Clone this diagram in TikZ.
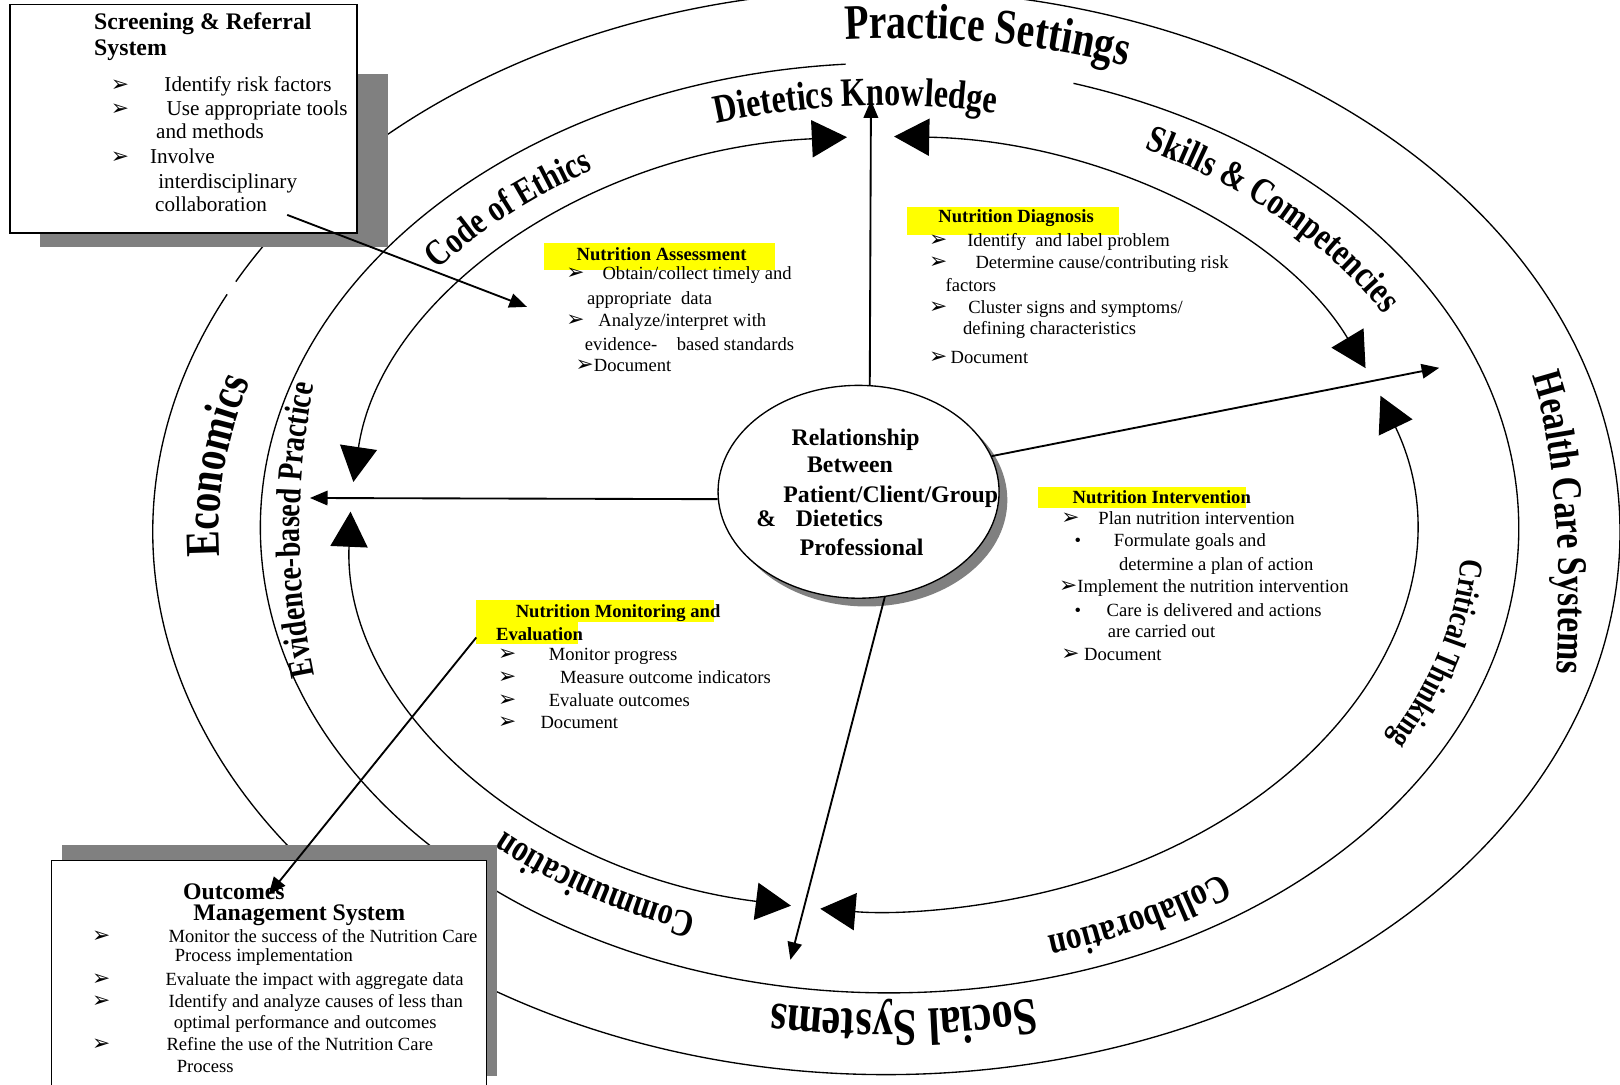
\documentclass[tikz,border=0pt]{standalone}
\usepackage{fontspec}
\setmainfont{Liberation Serif}
\newfontfamily\ringfont[FakeStretch=0.8]{Liberation Serif}
\newfontfamily\symfont{DejaVu Sans}
\usetikzlibrary{arrows.meta,decorations.text,calc,shapes.geometric}
\definecolor{shd}{RGB}{128,128,128}
\definecolor{hlyel}{RGB}{255,255,0}
\newcommand\arw{{\symfont\fontsize{21}{21}\selectfont\char"27A2}}
\newcommand\rfPS{\ringfont\bfseries\fontsize{48}{48}\selectfont}
\newcommand\rfHC{\ringfont\bfseries\fontsize{40.5}{40.5}\selectfont}
\newcommand\rfSS{\ringfont\bfseries\fontsize{51}{51}\selectfont}
\newcommand\rfEC{\ringfont\bfseries\fontsize{47}{47}\selectfont}
\newcommand\rfDK{\ringfont\bfseries\fontsize{39}{39}\selectfont}
\newcommand\rfSC{\ringfont\bfseries\fontsize{37}{37}\selectfont}
\newcommand\rfCE{\ringfont\bfseries\fontsize{36}{36}\selectfont}
\newcommand\rfEB{\ringfont\bfseries\fontsize{34}{34}\selectfont}
\newcommand\rfCT{\ringfont\bfseries\fontsize{32}{32}\selectfont}
\newcommand\rfCO{\ringfont\bfseries\fontsize{38}{38}\selectfont}
\newcommand\rfCM{\ringfont\bfseries\fontsize{37}{37}\selectfont}
\newcounter{tn}
\newcommand\mytext[4]{\stepcounter{tn}\node[#3] (t\arabic{tn}) at (#1,-#2) {#4};}
\tikzset{
 ringline/.style={line width=1.3pt},
 cyc/.style={line width=1.3pt, {Triangle[length=34pt,width=36pt]}-{Triangle[length=34pt,width=36pt]}},
 conn/.style={line width=1.8pt, -{Triangle[length=17pt,width=14pt]}},
 boxnode/.style={draw, line width=1.3pt, fill=white, inner sep=0pt, anchor=north west},
 hl/.style={fill=hlyel},
 bt/.style={anchor=base west, inner sep=0pt, font=\fontsize{18}{18}\selectfont},
 bb/.style={anchor=base west, inner sep=0pt, font=\bfseries\fontsize{18}{18}\selectfont},
 sbt/.style={anchor=base west, inner sep=0pt, font=\fontsize{20.5}{20.5}\selectfont},
 tt/.style={anchor=base west, inner sep=0pt, font=\bfseries\fontsize{23}{23}\selectfont},
 bul/.style={anchor=base west, inner sep=0pt},
}
\begin{document}
\begin{tikzpicture}[x=1pt,y=1pt]
\useasboundingbox (0,0) rectangle (1568,-1050);
\clip (0,0) rectangle (1568,-1050);
\fill[white] (0,0) rectangle (1568,-1050);

\coordinate (cI) at (852,-507);
\coordinate (cM) at (861,-511);
\coordinate (cO) at (858,-515);
\coordinate (cB) at (856,-513);

% rings
\draw[ringline] ($(cO)+(96:710pt and 525pt)$) arc[start angle=96,end angle=152.5,x radius=710pt,y radius=525pt];
\draw[ringline] ($(cO)+(154:710pt and 525pt)$) arc[start angle=154,end angle=440,x radius=710pt,y radius=525pt];
\draw[ringline] ($(cM)+(94:609pt and 450pt)$) arc[start angle=94,end angle=433,x radius=609pt,y radius=450pt];

% inner care cycle
\draw[cyc] ($(cI)+(93.6:513pt and 375pt)$) arc[start angle=93.6,end angle=173.8,x radius=513pt,y radius=375pt];
\draw[cyc] ($(cI)+(23.7:513pt and 375pt)$) arc[start angle=23.7,end angle=88.5,x radius=513pt,y radius=375pt];
\draw[cyc] ($(cI)+(19.3:513pt and 375pt)$) arc[start angle=19.3,end angle=-96.5,x radius=513pt,y radius=375pt];
\draw[cyc] ($(cI)+(-99.7:513pt and 375pt)$) arc[start angle=-99.7,end angle=-181.8,x radius=513pt,y radius=375pt];

% ring labels
\path[decorate,decoration={text along path,text align=center,text={|\rfDK|Dietetics Knowledge}}]
  ($(cB)+(120:560pt and 411pt)$) arc[start angle=120,end angle=66,x radius=560pt,y radius=411pt];
\path[decorate,decoration={text along path,text align=center,text={|\rfCE|Code of Ethics}}]
  ($(cB)+(154:552pt and 405pt)$) arc[start angle=154,end angle=110,x radius=552pt,y radius=405pt];
\path[decorate,decoration={text along path,text align=center,text={|\rfSC|Skills {\&} Competencies}}]
  ($(cB)+(71:560pt and 413pt)$) arc[start angle=71,end angle=21,x radius=560pt,y radius=413pt];
\path[decorate,decoration={text along path,text align=center,text={|\rfCT|Critical Thinking}}]
  ($(cB)+(14:560pt and 413pt)$) arc[start angle=14,end angle=-45,x radius=560pt,y radius=413pt];
\path[decorate,decoration={text along path,text align=center,text={|\rfCO|Collaboration}}]
  ($(cB)+(-38:560pt and 410pt)$) arc[start angle=-38,end angle=-88,x radius=560pt,y radius=410pt];
\path[decorate,decoration={text along path,text align=center,text={|\rfCM|Communication}}]
  ($(cB)+(-97:545pt and 395pt)$) arc[start angle=-97,end angle=-147,x radius=545pt,y radius=395pt];
\path[decorate,decoration={text along path,text align=center,text={|\rfEB|Evidence-based Practice}}]
  ($(cB)+(200:566pt and 630pt)$) arc[start angle=200,end angle=160,x radius=566pt,y radius=630pt];
\path[decorate,decoration={text along path,text align=center,text={|\rfEC|Economics}}]
  ($(cO)+(198:646pt and 481pt)$) arc[start angle=198,end angle=148,x radius=646pt,y radius=481pt];
\path[decorate,decoration={text along path,text align=center,text={|\rfSS|Social Systems}}]
  ($(cO)+(-70:640pt and 463pt)$) arc[start angle=-70,end angle=-107,x radius=640pt,y radius=463pt];
\path[decorate,decoration={text along path,text={|\rfPS|Practice Settings}}]
  (818,-38) .. controls (900,-34) and (1000,-39) .. (1110,-69);
\path[decorate,decoration={text along path,text={|\rfHC|Health Care Systems}}]
  (1483,-364) .. controls (1506,-430) and (1518,-580) .. (1500,-720);

% side boxes
\fill[shd] (39,-72) rectangle (376,-239);
\node[boxnode, minimum width=336pt, minimum height=221pt] (scr) at (9,-4) {};
\fill[shd] (60,-818) rectangle (481,-1041);
\node[boxnode, minimum width=421pt, minimum height=240pt] (outc) at (49,-832) {};

% central ellipse
\fill[shd] (839,-484) ellipse[x radius=136pt, y radius=103pt];
\node[draw, ellipse, line width=1.3pt, fill=white, minimum width=272pt, minimum height=206pt, inner sep=0pt] (rel) at (831,-476) {};

% highlights
\fill[hl] (527,-235) rectangle (750,-261);
\fill[hl] (878,-200) rectangle (1083,-227);
\fill[hl] (1005,-471) rectangle (1206,-492);
\fill[hl] (461,-581) rectangle (691,-602);
\fill[hl] (461,-602) rectangle (559,-623);

% screening text
\mytext{91}{29}{tt}{Screening \& Referral}
\mytext{91}{54}{tt}{System}
\mytext{107}{89}{bul}{\arw}
\mytext{159}{89}{sbt}{Identify risk factors}
\mytext{107}{112}{bul}{\arw}
\mytext{161}{112}{sbt}{Use appropriate tools}
\mytext{151}{134}{sbt}{and methods}
\mytext{107}{158}{bul}{\arw}
\mytext{145}{158}{sbt}{Involve}
\mytext{153}{182}{sbt}{interdisciplinary}
\mytext{150}{205}{sbt}{collaboration}

% outcomes text
\mytext{177}{871}{tt}{Outcomes}
\mytext{187}{891}{tt}{Management System}
\mytext{89}{912}{bul}{\arw}
\mytext{163}{912}{bt}{Monitor the success of the Nutrition Care}
\mytext{169}{931}{bt}{Process implementation}
\mytext{89}{954}{bul}{\arw}
\mytext{160}{954}{bt}{Evaluate the impact with aggregate data}
\mytext{89}{975}{bul}{\arw}
\mytext{163}{975}{bt}{Identify and analyze causes of less than}
\mytext{168}{995}{bt}{optimal performance and outcomes}
\mytext{89}{1017}{bul}{\arw}
\mytext{161}{1017}{bt}{Refine the use of the Nutrition Care}
\mytext{171}{1038}{bt}{Process}

% assessment
\mytext{558}{252}{bb}{Nutrition Assessment}
\mytext{548}{271}{bul}{\arw}
\mytext{583}{271}{bt}{Obtain/collect timely and}
\mytext{568}{295}{bt}{appropriate\ \ data}
\mytext{548}{316}{bul}{\arw}
\mytext{579}{316}{bt}{Analyze/interpret with}
\mytext{566}{339}{bt}{evidence-\hspace{19pt}based standards}
\mytext{557}{360}{bt}{\arw Document}

% diagnosis
\mytext{908}{215}{bb}{Nutrition Diagnosis}
\mytext{899}{239}{bul}{\arw}
\mytext{936}{239}{bt}{Identify\ \ and label problem}
\mytext{899}{260}{bul}{\arw}
\mytext{944}{260}{bt}{Determine cause/contributing risk}
\mytext{915}{282}{bt}{factors}
\mytext{899}{303}{bul}{\arw}
\mytext{937}{303}{bt}{Cluster signs and symptoms/}
\mytext{932}{324}{bt}{defining characteristics}
\mytext{899}{352}{bul}{\arw}
\mytext{920}{352}{bt}{Document}

% intervention
\mytext{1038}{487}{bb}{Nutrition Intervention}
\mytext{1027}{508}{bul}{\arw}
\mytext{1063}{508}{bt}{Plan nutrition intervention}
\mytext{1040}{529}{bt}{\textbullet}
\mytext{1078}{529}{bt}{Formulate goals and}
\mytext{1083}{552}{bt}{determine a plan of action}
\mytext{1025}{573}{bt}{\arw Implement the nutrition intervention}
\mytext{1040}{597}{bt}{\textbullet}
\mytext{1071}{597}{bt}{Care is delivered and actions}
\mytext{1072}{617}{bt}{are carried out}
\mytext{1027}{639}{bt}{\arw\ Document}

% monitoring
\mytext{499}{598}{bb}{Nutrition Monitoring and}
\mytext{480}{620}{bb}{Evaluation}
\mytext{482}{639}{bul}{\arw}
\mytext{531}{639}{bt}{Monitor progress}
\mytext{482}{662}{bul}{\arw}
\mytext{542}{662}{bt}{Measure outcome indicators}
\mytext{482}{684}{bul}{\arw}
\mytext{531}{684}{bt}{Evaluate outcomes}
\mytext{482}{705}{bul}{\arw}
\mytext{523}{705}{bt}{Document}

% centre text
\mytext{766}{431}{tt}{Relationship}
\mytext{781}{457}{tt}{Between}
\mytext{758}{486}{tt}{Patient/Client/Group}
\mytext{732}{510}{tt}{\&}
\mytext{770}{510}{tt}{Dietetics}
\mytext{774}{538}{tt}{Professional}

% connectors
\coordinate (kTip) at (843,-97);
\coordinate (eTip) at (300,-482);
\coordinate (hTip) at (1393,-356);
\coordinate (sTip) at (765,-929);
\draw[conn] (rel.84) -- (kTip);
\draw[conn] (rel.183) -- (eTip);
\draw[conn] (rel.15) -- (hTip);
\draw[conn] (rel.-76) -- (sTip);
\coordinate (scA) at (278,-208);
\coordinate (scB) at (510,-297);
\draw[conn] (scA) -- (scB);
\coordinate (moA) at (461,-617);
\coordinate (moB) at (260,-866);
\draw[conn] (moA) -- (moB);
\end{tikzpicture}
\end{document}
